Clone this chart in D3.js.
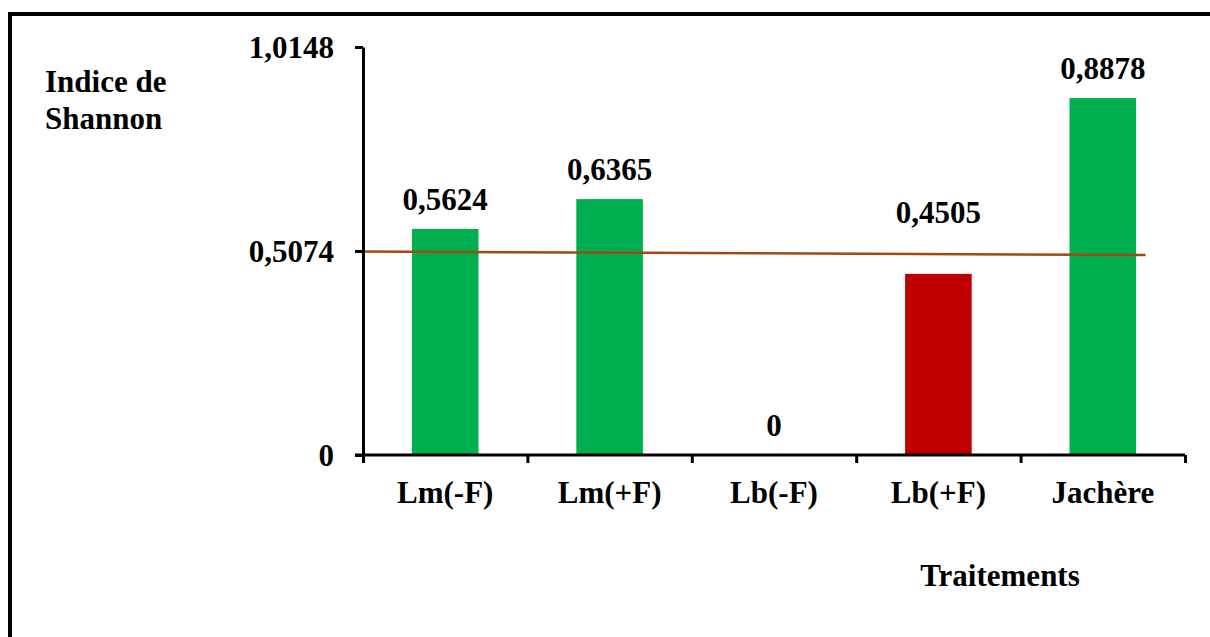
<!DOCTYPE html>
<html>
<head>
<meta charset="utf-8">
<script src="https://cdn.jsdelivr.net/npm/d3@7"></script>
<style>
  html, body { margin: 0; padding: 0; background: #fff; }
  svg { display: block; }
</style>
</head>
<body>
<svg id="chart" width="1210" height="637"></svg>
<script>
// ---- Data ----
const categories = ["Lm(-F)", "Lm(+F)", "Lb(-F)", "Lb(+F)", "Jachère"];
const shannonValues = [0.5624, 0.6365, 0, 0.4505, 0.8878];
const valueLabels = ["0,5624", "0,6365", "0", "0,4505", "0,8878"];
const barColors = ["#00B050", "#00B050", "#00B050", "#C00000", "#00B050"];
const yTickValues = [0, 0.5074, 1.0148];
const yTickLabels = ["0", "0,5074", "1,0148"];
const meanValue = 0.5074;
// mean line as drawn (category-position, value)
const meanLinePos = [-0.52, 4.26];
const meanLineValues = [0.5060, 0.4975];

// ---- Layout ----
const FONT = "'Liberation Serif', 'Times New Roman', Times, serif";
const svg = d3.select("#chart")
  .attr("font-family", FONT)
  .attr("font-weight", "bold");
const plotLeft = 363, plotRight = 1185, plotTop = 47, plotBottom = 455;

const x = d3.scaleBand().domain(categories).range([plotLeft, plotRight]).padding(0);
const xPos = d3.scaleLinear().domain([-0.5, categories.length - 0.5]).range([plotLeft, plotRight]);
const y = d3.scaleLinear().domain([0, 1.0148]).range([plotBottom, plotTop]);

function styleText(sel) {
  return sel.attr("font-family", FONT).attr("font-weight", "bold")
    .attr("font-size", 31).attr("fill", "#000");
}

// Outer frame (extends past right/bottom edges)
svg.append("rect")
  .attr("x", 10).attr("y", 14)
  .attr("width", 1400).attr("height", 800)
  .attr("fill", "none").attr("stroke", "#000").attr("stroke-width", 4);

// Bars
const barFrac = 0.405;
svg.append("g").selectAll("rect")
  .data(categories)
  .join("rect")
  .attr("x", (d) => x(d) + x.bandwidth() * (1 - barFrac) / 2)
  .attr("width", x.bandwidth() * barFrac)
  .attr("y", (d, i) => y(shannonValues[i]))
  .attr("height", (d, i) => y(0) - y(shannonValues[i]))
  .attr("fill", (d, i) => barColors[i]);

// Mean line
const meanPts = meanLinePos.map((p, i) => [xPos(p), y(meanLineValues[i])]);
svg.append("path")
  .attr("d", d3.line()(meanPts))
  .attr("fill", "none")
  .attr("stroke", "#9E4B10")
  .attr("stroke-width", 2.5);

// Y axis
const yAxis = svg.append("g")
  .attr("transform", `translate(${plotLeft},0)`)
  .call(d3.axisLeft(y)
    .tickValues(yTickValues)
    .tickFormat((d, i) => yTickLabels[i])
    .tickSize(8)
    .tickPadding(21)
    .tickSizeOuter(0));
yAxis.attr("font-family", FONT);
yAxis.select(".domain").attr("stroke", "#000").attr("stroke-width", 3);
yAxis.selectAll(".tick line").attr("stroke", "#000").attr("stroke-width", 3);
styleText(yAxis.selectAll(".tick text")).attr("dy", "0.34em");

// X axis: boundary ticks
const xTickPositions = d3.range(-0.5, categories.length, 1);
const xAxis = svg.append("g")
  .attr("transform", `translate(0,${plotBottom})`)
  .call(d3.axisBottom(xPos)
    .tickValues(xTickPositions)
    .tickFormat("")
    .tickSize(8)
    .tickSizeOuter(0));
xAxis.select(".domain").attr("stroke", "#000").attr("stroke-width", 3)
  .attr("d", `M${plotLeft - 8},0H${plotRight}`);
xAxis.selectAll(".tick line").attr("stroke", "#000").attr("stroke-width", 3);

// X category labels
styleText(svg.append("g").selectAll("text")
  .data(categories)
  .join("text"))
  .attr("x", (d) => x(d) + x.bandwidth() / 2)
  .attr("y", 503)
  .attr("text-anchor", "middle")
  .text((d) => d);

// Value labels
styleText(svg.append("g").selectAll("text")
  .data(categories)
  .join("text"))
  .attr("x", (d) => x(d) + x.bandwidth() / 2)
  .attr("y", (d, i) => {
    const v = shannonValues[i];
    if (v > 0 && v < meanValue) return y(meanValue) - 28;
    return y(v) - 19;
  })
  .attr("text-anchor", "middle")
  .text((d, i) => valueLabels[i]);

// Axis titles
const yTitle = styleText(svg.append("text"));
yTitle.append("tspan").attr("x", 45).attr("y", 92).text("Indice de");
yTitle.append("tspan").attr("x", 45).attr("y", 129).text("Shannon");

styleText(svg.append("text"))
  .attr("x", 1000).attr("y", 586)
  .attr("text-anchor", "middle")
  .text("Traitements");
</script>
</body>
</html>
